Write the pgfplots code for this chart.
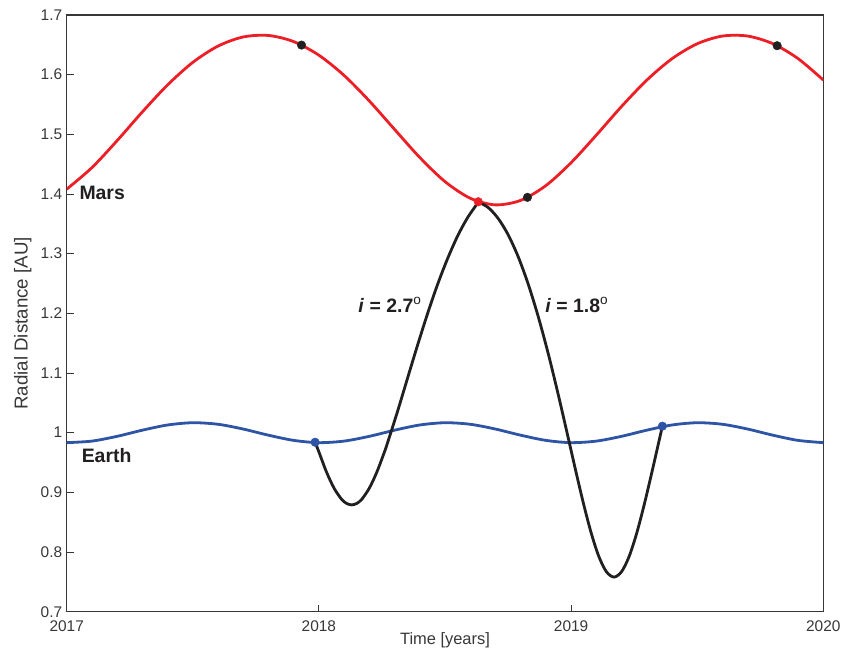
\documentclass[border=0pt]{standalone}
\usepackage{pgfplots}
\pgfplotsset{compat=1.18}
\usepackage{fontspec}
\setmainfont{Liberation Sans}
\usetikzlibrary{calc}
\definecolor{marsred}{RGB}{236,30,38}
\definecolor{earthblue}{RGB}{45,84,165}
\definecolor{trajblack}{RGB}{33,31,32}
\definecolor{axgray}{RGB}{55,55,55}
\begin{document}
\begin{tikzpicture}
\begin{axis}[
  scale only axis,
  width=756.6bp, height=596.7bp,
  xmin=2017, xmax=2020, ymin=0.7, ymax=1.7,
  xtick={2017,2018,2019,2020},
  xticklabels={2017,2018,2019,2020},
  ytick={0.7,0.8,0.9,1,1.1,1.2,1.3,1.4,1.5,1.6,1.7},
  yticklabels={0.7,0.8,0.9,1,1.1,1.2,1.3,1.4,1.5,1.6,1.7},
  /pgf/number format/assume math mode=true,
  xtick pos=bottom, ytick pos=left,
  tick align=inside,
  major tick length=7bp,
  axis line style={axgray, line width=1.1bp},
  every tick/.style={axgray, line width=0.9bp},
  tick label style={font=\fontsize{15.5}{18}\selectfont, text=axgray},
  xticklabel style={yshift=-5bp},
  yticklabel style={xshift=-1bp},
  xlabel={Time [years]},
  ylabel={Radial Distance [AU]},
  xlabel style={font=\fontsize{16.5}{19}\selectfont, text=axgray, at={(axis description cs:0.5,-0.0474)}, anchor=center},
  ylabel style={font=\fontsize{18.8}{21}\selectfont, text=axgray, at={(axis description cs:-0.058,0.483)}, anchor=center, rotate=0},
  clip=true,
]
% Mars
\addplot[marsred, line width=2.8bp, smooth] coordinates {
(2017.0,1.4081)(2017.1,1.4442)(2017.2,1.4895)(2017.3,1.5376)(2017.4,1.5828)
(2017.5,1.6206)(2017.6,1.6479)(2017.7,1.6632)(2017.8,1.6657)(2017.9,1.6554)
(2018.0,1.6326)(2018.1,1.5987)(2018.2,1.5559)(2018.3,1.5083)(2018.4,1.4612)
(2018.5,1.4208)(2018.6,1.3929)(2018.7,1.3818)(2018.8,1.3893)(2018.9,1.4141)
(2019.0,1.4525)(2019.1,1.4987)(2019.2,1.5467)(2019.3,1.5908)(2019.4,1.6267)
(2019.5,1.6518)(2019.6,1.6647)(2019.7,1.6647)(2019.8,1.6519)(2019.9,1.6269)
(2020.0,1.5910)};
% Earth
\addplot[earthblue, line width=2.8bp, smooth] coordinates {
(2017.0,0.9833)(2017.1,0.9859)(2017.2,0.9939)(2017.3,1.0042)(2017.4,1.0129)
(2017.5,1.0167)(2017.6,1.0141)(2017.7,1.0061)(2017.8,0.9958)(2017.9,0.9871)
(2018.0,0.9833)(2018.1,0.9859)(2018.2,0.9939)(2018.3,1.0042)(2018.4,1.0129)
(2018.5,1.0167)(2018.6,1.0141)(2018.7,1.0061)(2018.8,0.9958)(2018.9,0.9871)
(2019.0,0.9833)(2019.1,0.9859)(2019.2,0.9939)(2019.3,1.0042)(2019.4,1.0129)
(2019.5,1.0167)(2019.6,1.0141)(2019.7,1.0061)(2019.8,0.9958)(2019.9,0.9871)
(2020.0,0.9833)};
% Leg 1 (Earth -> Mars)
\addplot[trajblack, line width=2.8bp, smooth] coordinates {
(2017.985,0.9840)(2018.000,0.9678)(2018.030,0.9342)(2018.060,0.9071)(2018.090,0.8884)
(2018.110,0.8814)(2018.130,0.8790)(2018.150,0.8814)(2018.170,0.8884)(2018.200,0.9071)
(2018.230,0.9342)(2018.260,0.9678)(2018.270,0.9802)(2018.310,1.0332)(2018.350,1.0893)
(2018.390,1.1450)(2018.430,1.1984)(2018.470,1.2478)(2018.510,1.2915)(2018.550,1.3296)
(2018.590,1.3607)(2018.632,1.3861)};
% Leg 2 (Mars -> Earth)
\addplot[trajblack, line width=2.8bp, smooth] coordinates {
(2018.632,1.3861)(2018.670,1.3778)(2018.710,1.3595)(2018.750,1.3320)(2018.790,1.2951)
(2018.830,1.2489)(2018.870,1.1941)(2018.910,1.1313)(2018.950,1.0621)(2018.990,0.9887)
(2019.020,0.9331)(2019.050,0.8796)(2019.080,0.8314)(2019.110,0.7925)(2019.140,0.7670)
(2019.170,0.7580)(2019.200,0.7670)(2019.230,0.7925)(2019.260,0.8314)(2019.290,0.8796)
(2019.320,0.9331)(2019.350,0.9887)(2019.362,1.0109)};
% dots
\addplot[only marks, mark=*, mark size=4.3bp, trajblack, mark options={fill=trajblack, draw=none}] coordinates {
(2017.931,1.6496)(2018.827,1.3944)(2019.817,1.6485)};
\addplot[only marks, mark=*, mark size=4.3bp, earthblue, mark options={fill=earthblue, draw=none}] coordinates {
(2017.985,0.9840)(2019.362,1.0109)};
\addplot[only marks, mark=*, mark size=4.3bp, marsred, mark options={fill=marsred, draw=none}] coordinates {
(2018.632,1.3870)};
% labels
\node[anchor=base west, inner sep=0pt, text=trajblack, font=\fontsize{19.5}{22}\selectfont\bfseries] at (axis cs:2017.050,1.3911) {Mars};
\node[anchor=base west, inner sep=0pt, text=trajblack, font=\fontsize{19.5}{22}\selectfont\bfseries] at (axis cs:2017.059,0.9497) {Earth};
\node[anchor=base west, inner sep=0pt, text=trajblack, font=\fontsize{19.5}{22}\selectfont\bfseries] at (axis cs:2018.156,1.2018) {\textit{i} = 2.7\textsuperscript{\mdseries o}};
\node[anchor=base west, inner sep=0pt, text=trajblack, font=\fontsize{19.5}{22}\selectfont\bfseries] at (axis cs:2018.897,1.2018) {\textit{i} = 1.8\textsuperscript{\mdseries o}};
\end{axis}
\pgfresetboundingbox
\path[use as bounding box] ($(current axis.south west)+(-66.7bp,-47.3bp)$) rectangle ($(current axis.north east)+(18.7bp,15bp)$);
\end{tikzpicture}
\end{document}
